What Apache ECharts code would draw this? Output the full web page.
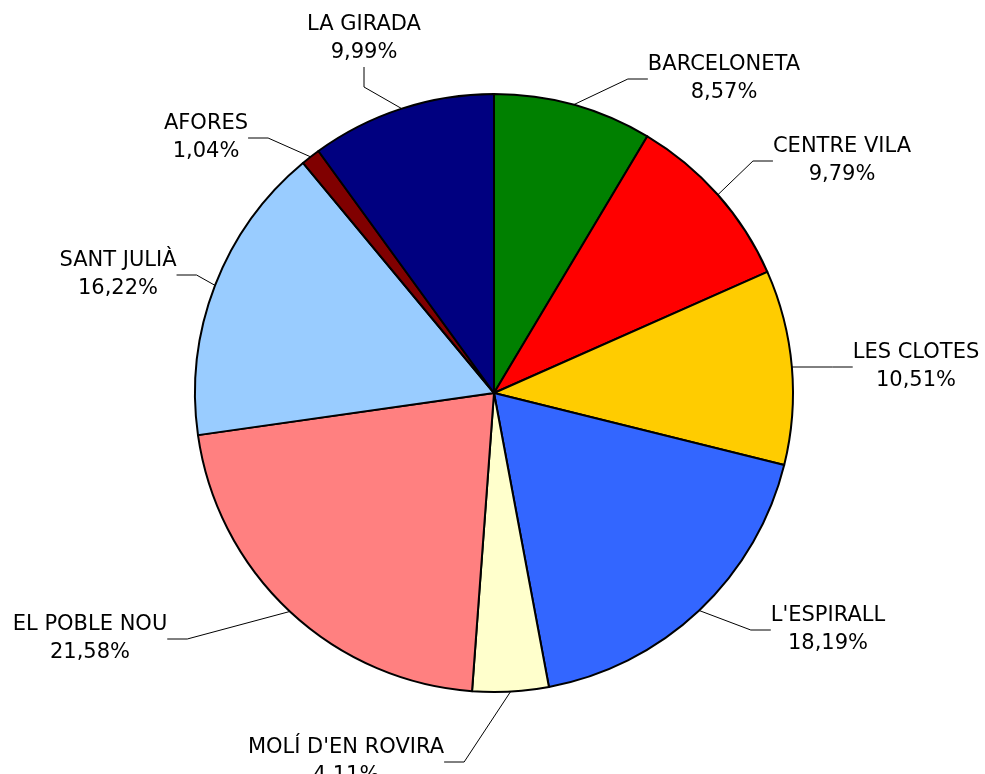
<!DOCTYPE html>
<html>
<head>
<meta charset="utf-8">
<script src="https://cdn.jsdelivr.net/npm/echarts@6/dist/echarts.min.js"></script>
<style>
html,body{margin:0;padding:0;background:#fff;}
#barris{width:985px;height:774px;}
</style>
</head>
<body>
<div id="barris"></div>
<script>
//noms dels barris i percentatges
var barris = ['BARCELONETA','CENTRE VILA','LES CLOTES',"L'ESPIRALL","MOLÍ D'EN ROVIRA",'EL POBLE NOU','SANT JULIÀ','AFORES','LA GIRADA'];
var percentatges = [8.57, 9.79, 10.51, 18.19, 4.11, 21.58, 16.22, 1.04, 9.99];
var colors = ['#008000','#FF0000','#FFCC00','#3366FF','#FFFFCC','#FF8080','#99CCFF','#800000','#000080'];

//on van les etiquetes (centre del bloc de text)
var etiquetaX = [724, 842, 916, 828, 346, 90, 118, 206, 364];
var etiquetaY = [79, 161, 367, 630, 762, 639, 275, 138, 39];

(function(){
	var chart = echarts.init(document.getElementById('barris'));
	var data = [];
	for (var i = 0; i < barris.length; i++) {
		data.push({name: barris[i], value: percentatges[i], itemStyle: {color: colors[i]}});
	}
	var option = {
		animation: false,
		series : [
			{
				type: 'pie',
				radius: 299,
				center: [494, 393],
				startAngle: 90,
				clockwise: true,
				avoidLabelOverlap: false,
				itemStyle: {
					borderColor: '#000',
					borderWidth: 2
				},
				label: {
					show: true,
					position: 'outside',
					fontFamily: 'DejaVu Sans',
					fontSize: 21,
					color: '#000',
					lineHeight: 28,
					formatter: function(p){
						return p.name + '\n' + p.value.toFixed(2).replace('.', ',') + '%';
					}
				},
				labelLine: {
					show: true,
					length: 20,
					length2: 20,
					lineStyle: {color: '#000', width: 1}
				},
				labelLayout: function(p){
					return {
						x: etiquetaX[p.dataIndex],
						y: etiquetaY[p.dataIndex],
						align: 'center',
						verticalAlign: 'middle'
					};
				},
				emphasis: {disabled: true},
				data: data
			}
		]
	};
	chart.setOption(option);
})();
</script>
</body>
</html>
